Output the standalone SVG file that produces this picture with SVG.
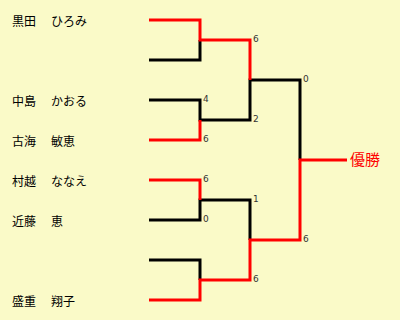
<svg xmlns="http://www.w3.org/2000/svg" width="400" height="320" viewBox="0 0 400 320">
<style>
.bg{fill:#FAFAC8}
.w{fill:none;stroke:#FF0000;stroke-width:3}
.l{fill:none;stroke:#000000;stroke-width:3}
.name{font-family:"Noto Sans CJK JP","Noto Sans CJK SC",sans-serif;font-size:12px;fill:#000}
.score{font-family:"DejaVu Sans","Liberation Sans",sans-serif;font-size:9px;fill:#333}
.champ{font-family:"Noto Sans CJK JP","Noto Sans CJK SC",sans-serif;font-size:15px;fill:#FF0000}
</style>
<rect class="bg" x="0" y="0" width="400" height="320"/>
<g id="connectors">
<path class="l" d="M149,60 H200 V40"/>
<path class="l" d="M149,100 H200 V120 H250 V80 H300 V160"/>
<path class="l" d="M149,220 H200 V200 H250 V240"/>
<path class="l" d="M149,260 H200 V280"/>
<path class="w" d="M149,20 H200 V40 H250 V80"/>
<path class="w" d="M149,140 H200 V120"/>
<path class="w" d="M149,180 H200 V200"/>
<path class="w" d="M149,300 H200 V280 H250 V240 H300 V160 H347"/>
</g>
<g id="scores">
<text class="score" x="253" y="42">6</text>
<text class="score" x="203" y="102">4</text>
<text class="score" x="203" y="142">6</text>
<text class="score" x="253" y="122">2</text>
<text class="score" x="303" y="82">0</text>
<text class="score" x="203" y="182">6</text>
<text class="score" x="203" y="222">0</text>
<text class="score" x="253" y="202">1</text>
<text class="score" x="253" y="282">6</text>
<text class="score" x="303" y="242">6</text>
</g>
<g id="p1"><text class="name" x="12" y="25.5">黒田</text><text class="name" x="51" y="25.5">ひろみ</text></g>
<g id="p3"><text class="name" x="12" y="105.5">中島</text><text class="name" x="51" y="105.5">かおる</text></g>
<g id="p4"><text class="name" x="12" y="145.5">古海</text><text class="name" x="51" y="145.5">敏恵</text></g>
<g id="p5"><text class="name" x="12" y="185.5">村越</text><text class="name" x="51" y="185.5">ななえ</text></g>
<g id="p6"><text class="name" x="12" y="225.5">近藤</text><text class="name" x="51" y="225.5">恵</text></g>
<g id="p8"><text class="name" x="12" y="305.5">盛重</text><text class="name" x="51" y="305.5">翔子</text></g>
<g id="winner"><text class="champ" x="350" y="164.5">優勝</text></g>
</svg>
